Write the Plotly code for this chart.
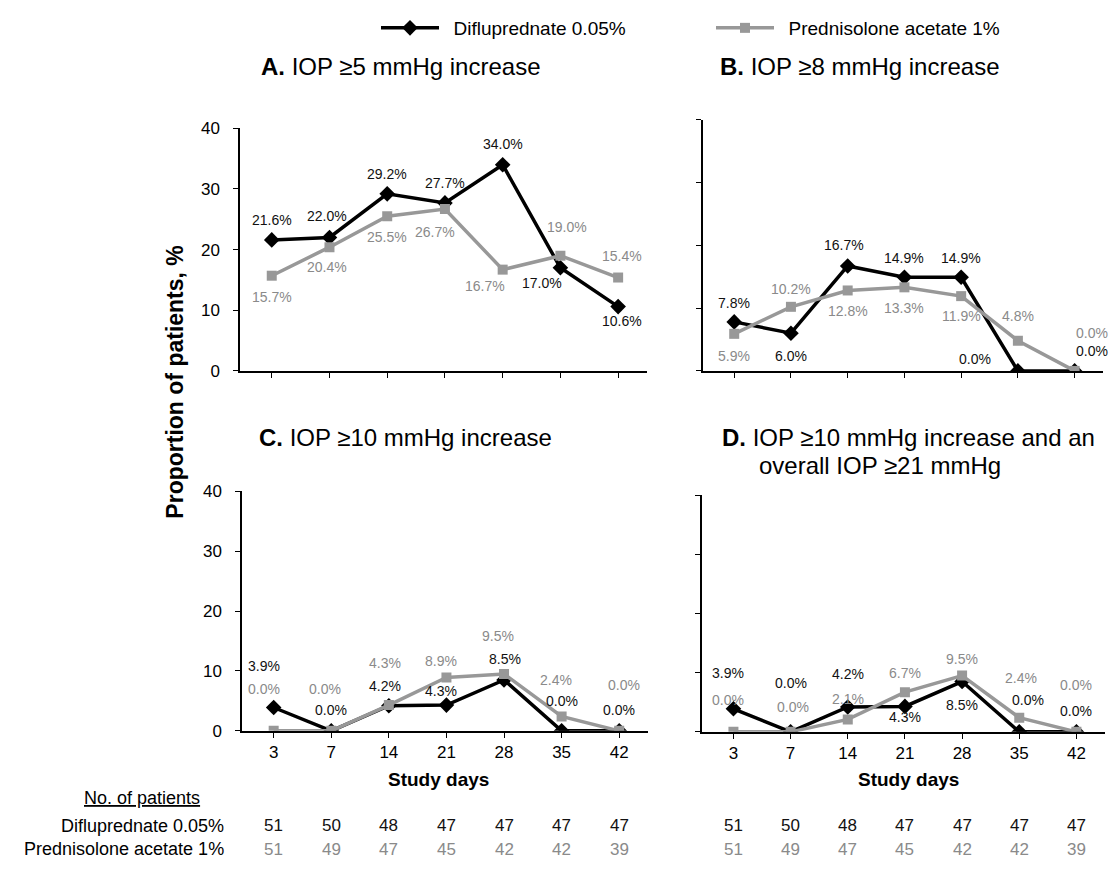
import plotly.graph_objects as go

W, H = 1112, 869

# ---------------- data ----------------
days = ["3", "7", "14", "21", "28", "35", "42"]
y_ticks = [0, 10, 20, 30, 40]
series_names = ["Difluprednate 0.05%", "Prednisolone acetate 1%"]

dif_A = [21.6, 22.0, 29.2, 27.7, 34.0, 17.0, 10.6]
pred_A = [15.7, 20.4, 25.5, 26.7, 16.7, 19.0, 15.4]
dif_B = [7.8, 6.0, 16.7, 14.9, 14.9, 0.0, 0.0]
pred_B = [5.9, 10.2, 12.8, 13.3, 11.9, 4.8, 0.0]
dif_C = [3.9, 0.0, 4.2, 4.3, 8.5, 0.0, 0.0]
pred_C = [0.0, 0.0, 4.3, 8.9, 9.5, 2.4, 0.0]
dif_D = [3.9, 0.0, 4.2, 4.3, 8.5, 0.0, 0.0]
pred_D = [0.0, 0.0, 2.1, 6.7, 9.5, 2.4, 0.0]

n_dif = [51, 50, 48, 47, 47, 47, 47]
n_pred = [51, 49, 47, 45, 42, 42, 39]

panel_letters = ["A.", "B.", "C.", "D."]
panel_texts = ["IOP ≥5 mmHg increase", "IOP ≥8 mmHg increase",
               "IOP ≥10 mmHg increase", "IOP ≥10 mmHg increase and an"]
panel_text2 = "overall IOP ≥21 mmHg"

# ---------------- styles ----------------
FONT = "Arial, Liberation Sans, sans-serif"
BLACK = "#000000"
GRAY = "#989898"
GRAY_TXT = "#8a8a8a"
BLACK_TXT = "#111111"

def px(x):
    return x / W

def py(y):
    return 1 - y / H

# panel boxes in pixels: left, right, bottom, top
boxes = [(240, 647, 370, 122), (703, 1103, 370, 113),
         (242, 648, 738, 493), (702, 1105, 739, 497)]

# label offsets (dx, dy) in pixels for each series per panel
off_dif = [
    [(0, 20), (-2, 21), (0, 20), (0, 20), (0, 21), (-18, -15), (4, -14)],
    [(0, 19), (0, -23), (-4, 21), (0, 19), (0, 19), (-43, 12), (17, 20)],
    [(-10, 42), (0, 21), (-4, 20), (-5, 14), (1, 21), (0, 30), (0, 21)],
    [(-5, 36), (0, 49), (0, 33), (0, -11), (0, -23), (9, 32), (0, 21)],
]
off_pred = [
    [(0, -21), (-2, -20), (0, -21), (-10, -23), (-18, -16), (7, 29), (4, 22)],
    [(0, -22), (0, 18), (0, -21), (0, -21), (0, -20), (0, 25), (17, 38)],
    [(-10, 42), (-6, 42), (-4, 42), (-5, 17), (-6, 38), (-6, 36), (5, 46)],
    [(-5, 32), (2, 25), (0, 20), (0, 19), (0, 17), (2, 40), (0, 47)],
]

dif_all = [dif_A, dif_B, dif_C, dif_D]
pred_all = [pred_A, pred_B, pred_C, pred_D]

fig = go.Figure()
annotations = []

for i in range(4):
    xa = "x" if i == 0 else f"x{i+1}"
    ya = "y" if i == 0 else f"y{i+1}"
    fig.add_trace(go.Scatter(
        x=days, y=dif_all[i], xaxis=xa, yaxis=ya, mode="lines+markers",
        name="\u2002" + series_names[0], showlegend=(i == 0), legendrank=1,
        line=dict(color=BLACK, width=3.5),
        marker=dict(symbol="diamond", size=12, color=BLACK),
        hoverinfo="skip"))
    fig.add_trace(go.Scatter(
        x=days, y=pred_all[i], xaxis=xa, yaxis=ya, mode="lines+markers",
        name="\u2002" + series_names[1], showlegend=(i == 0), legendrank=2,
        line=dict(color=GRAY, width=3.5),
        marker=dict(symbol="square", size=10, color=GRAY),
        hoverinfo="skip"))

    # data labels: x given as category index on the category axis
    for j in range(len(days)):
        dx, dy = off_dif[i][j]
        annotations.append(dict(
            x=j, y=dif_all[i][j], xref=xa, yref=ya, text=f"{dif_all[i][j]:.1f}%",
            showarrow=False, xanchor="center", yanchor="middle",
            xshift=dx, yshift=dy, font=dict(family=FONT, size=14, color=BLACK_TXT)))
        dx, dy = off_pred[i][j]
        annotations.append(dict(
            x=j, y=pred_all[i][j], xref=xa, yref=ya, text=f"{pred_all[i][j]:.1f}%",
            showarrow=False, xanchor="center", yanchor="middle",
            xshift=dx, yshift=dy, font=dict(family=FONT, size=14, color=GRAY_TXT)))

# axes
for i, (l, r, b, t) in enumerate(boxes):
    xkey = "xaxis" if i == 0 else f"xaxis{i+1}"
    ykey = "yaxis" if i == 0 else f"yaxis{i+1}"
    ya = "y" if i == 0 else f"y{i+1}"
    xa = "x" if i == 0 else f"x{i+1}"
    fig.layout[xkey] = dict(
        domain=[px(l), px(r)], anchor=ya, type="category",
        range=[-0.55, 6.5], showgrid=False, zeroline=False,
        showline=True, linecolor=BLACK, linewidth=1.5,
        ticks="outside", ticklen=5, tickcolor=BLACK, tickwidth=1.2,
        showticklabels=(i >= 2), tickfont=dict(family=FONT, size=17, color=BLACK),
        fixedrange=True)
    fig.layout[ykey] = dict(
        domain=[py(b), py(t)], anchor=xa, range=[0, 40],
        tickvals=y_ticks, showgrid=False, zeroline=False,
        showline=True, linecolor=BLACK, linewidth=1.5,
        ticks="outside", ticklen=5, tickcolor=BLACK, tickwidth=1.2,
        showticklabels=(i in (0, 2)), ticklabelstandoff=10,
        tickfont=dict(family=FONT, size=17, color=BLACK),
        fixedrange=True)

# panel titles
title_pos = [(259, 59), (718, 59), (257, 438), (720, 438)]
for i, (tx, ty) in enumerate(title_pos):
    annotations.append(dict(
        x=px(tx), y=py(ty), xref="paper", yref="paper", xanchor="left", yanchor="middle",
        text=f"<b>{panel_letters[i]}</b> {panel_texts[i]}", showarrow=False,
        font=dict(family=FONT, size=24, color=BLACK)))
annotations.append(dict(
    x=px(757), y=py(467), xref="paper", yref="paper", xanchor="left", yanchor="middle",
    text=panel_text2, showarrow=False, font=dict(family=FONT, size=24, color=BLACK)))

# y-axis title
annotations.append(dict(
    x=px(175), y=py(382), xref="paper", yref="paper", xanchor="center", yanchor="middle",
    text="<b>Proportion of patients, %</b>", textangle=-90, showarrow=False,
    font=dict(family=FONT, size=23, color=BLACK)))

# x-axis titles
for tx in (438, 908):
    annotations.append(dict(
        x=px(tx), y=py(788), xref="paper", yref="paper", xanchor="center", yanchor="middle",
        text="<b>Study days</b>", showarrow=False, font=dict(family=FONT, size=19, color=BLACK)))

# patient numbers table
annotations.append(dict(
    x=px(142), y=py(807), xref="paper", yref="paper", xanchor="center", yanchor="middle",
    text="<u>No. of patients</u>", showarrow=False, font=dict(family=FONT, size=18, color=BLACK)))
annotations.append(dict(
    x=px(226), y=py(835), xref="paper", yref="paper", xanchor="right", yanchor="middle",
    text=series_names[0], showarrow=False, font=dict(family=FONT, size=18, color=BLACK)))
annotations.append(dict(
    x=px(226), y=py(859), xref="paper", yref="paper", xanchor="right", yanchor="middle",
    text=series_names[1], showarrow=False, font=dict(family=FONT, size=18, color=BLACK)))
for xa in ("x3", "x4"):
    for j in range(len(days)):
        annotations.append(dict(
            x=j, y=py(835), xref=xa, yref="paper", xanchor="center", yanchor="middle",
            text=str(n_dif[j]), showarrow=False, font=dict(family=FONT, size=17, color=BLACK_TXT)))
        annotations.append(dict(
            x=j, y=py(859), xref=xa, yref="paper", xanchor="center", yanchor="middle",
            text=str(n_pred[j]), showarrow=False, font=dict(family=FONT, size=17, color=GRAY_TXT)))

fig.update_layout(
    width=W, height=H,
    margin=dict(l=0, r=0, t=0, b=0),
    paper_bgcolor="white", plot_bgcolor="white",
    font=dict(family=FONT, color=BLACK),
    annotations=annotations,
    legend=dict(
        orientation="h", x=px(376), y=1.0, xanchor="left", yanchor="top",
        itemwidth=58, entrywidth=262, entrywidthmode="pixels",
        font=dict(family=FONT, size=19, color=BLACK),
        bgcolor="rgba(0,0,0,0)", traceorder="normal",
        itemclick=False, itemdoubleclick=False),
)

fig.write_html("out.html", config={"displayModeBar": False},
               post_script="document.body.style.margin='0';")
